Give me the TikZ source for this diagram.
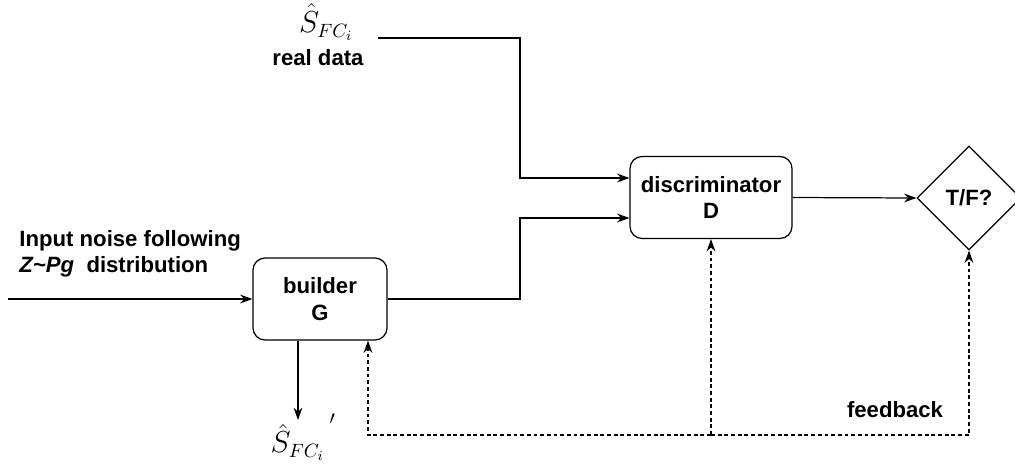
\documentclass[tikz,border=0pt]{standalone}
\usepackage{fontspec}
\setmainfont{Liberation Sans}
\usepackage{tikz}
\usetikzlibrary{arrows.meta,shapes.geometric}

\begin{document}
\begin{tikzpicture}[x=0.02cm,y=-0.02cm,
                    line width=0.7pt,
                    txt/.style={font=\bfseries\fontsize{12.6}{15}\selectfont},
                    blk/.style={txt,draw,rectangle,align=center,
                    minimum height=1.64cm,
                    rounded corners=0.24cm},
                    dia/.style={txt,draw,diamond,aspect=1,inner sep=0pt,
                    minimum width=2.08cm,minimum height=2.08cm},
                    mth/.style={inner sep=0pt,font=\fontsize{16}{18}\selectfont},
                    arr/.style={-{Stealth[length=7pt,width=5pt]}},
                    fb/.style={arr,dash pattern=on 2.2pt off 1.6pt}]
    \useasboundingbox (0,0) rectangle (1015,464);
    \node[blk,minimum width=2.68cm](G) at (320,299) {builder\\G};
    \node[blk,minimum width=3.24cm](D) at (711,197.5) {discriminator\\D};
    \node[dia](tf) at (969,198) {T/F?};
    \node[txt,align=left,anchor=west](noise) at (13,254)
        {Input noise following\\\textit{Z\textasciitilde Pg}\ \ distribution};
    \node[mth](sreal) at (326,22) {$\hat{S}_{FC_i}$};
    \node[txt,inner sep=1pt](real) at (318,58) {real data};
    \node[mth,anchor=south west](sfake) at (270,461)
        {$\hat{S}_{FC_i}\,\raisebox{1.9ex}{$\scriptstyle\prime$}$};
    \node[txt](fbk) at (895,410) {feedback};
    \coordinate (in) at (8,299);
    \coordinate (rd) at (378,38);
    \coordinate (gout) at (298,420);
    \coordinate (split) at (711,435);
    \draw[arr] (in) -- (G.west);
    \draw[arr] (rd) -- (520,38) |- ([yshift=0.39cm]D.west);
    \draw[arr] (G.east) -- (520,299) |- ([yshift=-0.41cm]D.west);
    \draw[arr] (D.east) -- (tf.west);
    \draw[arr] (gout |- G.south) -- (gout);
    \draw[fb] (split) -- (D.south);
    \draw[fb] (split) -| (tf.south);
    \draw[fb] (split) -| ([xshift=0.96cm]G.south);
\end{tikzpicture}
\end{document}
